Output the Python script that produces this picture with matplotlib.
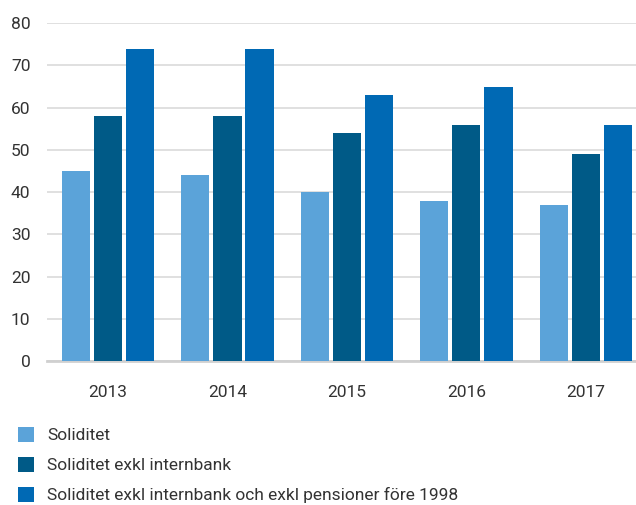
import numpy as np
import matplotlib.pyplot as plt

years = ["2013", "2014", "2015", "2016", "2017"]
soliditet = [45, 44, 40, 38, 37]
exkl_internbank = [58, 58, 54, 56, 49]
exkl_pension = [74, 74, 63, 65, 56]
labels = ["Soliditet", "Soliditet exkl internbank",
          "Soliditet exkl internbank och exkl pensioner före 1998"]
colors = ["#5ba3d9", "#005a87", "#0069b4"]

plt.rcParams["font.family"] = ["Roboto", "DejaVu Sans"]

fig = plt.figure(figsize=(6.36, 5.05), dpi=100)
ax = fig.add_axes([0.074, 0.285, 0.926, 0.669])

x = np.arange(len(years))
w = 0.236
gap = 0.033
for i, (vals, lab, c) in enumerate(zip([soliditet, exkl_internbank, exkl_pension], labels, colors)):
    ax.bar(x + (i - 1) * (w + gap), vals, width=w, color=c, label=lab, zorder=3)

ax.set_xlim(-0.51, 4.42)
ax.set_ylim(0, 80)
ax.set_yticks(range(0, 81, 10))
ax.set_xticks(x)
ax.set_xticklabels(years)
ax.grid(axis="y", color="#dddddd", linewidth=1.3, zorder=0)
for s in ["top", "right", "left"]:
    ax.spines[s].set_visible(False)
ax.spines["bottom"].set_color("#d0d0d0")
ax.spines["bottom"].set_linewidth(2)
ax.tick_params(axis="both", length=0, labelsize=12.5, colors="#333333")
ax.tick_params(axis="x", pad=17)
ax.tick_params(axis="y", pad=12)

handles, labs = ax.get_legend_handles_labels()
fig.legend(handles, labs, loc="upper left", bbox_to_anchor=(0.003, 0.186),
           frameon=False, fontsize=12.5, handlelength=0.95, handleheight=0.95,
           labelspacing=0.78, handletextpad=0.75, labelcolor="#333333")

fig.savefig("out.png", dpi=100)
